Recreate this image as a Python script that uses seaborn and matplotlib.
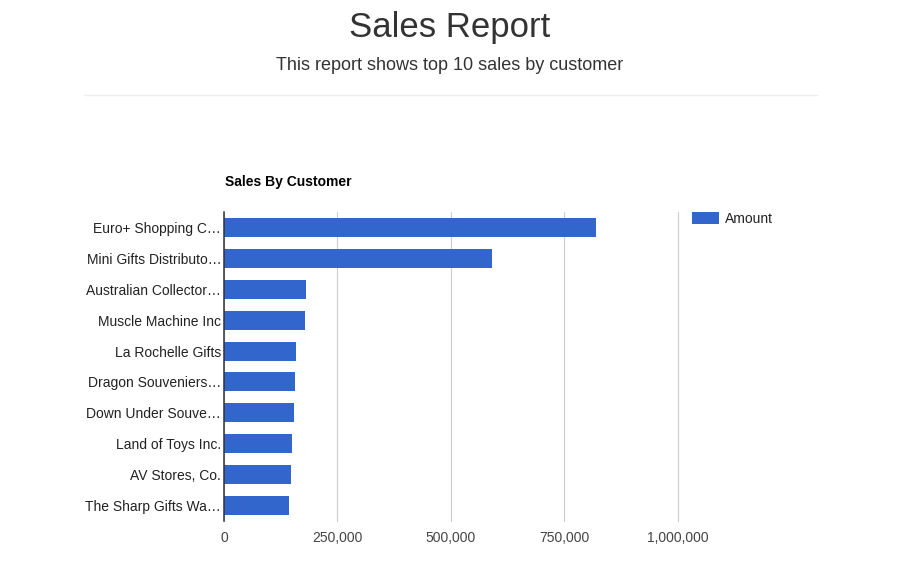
import matplotlib
matplotlib.use("Agg")
import matplotlib.pyplot as plt
import seaborn as sns
import pandas as pd
from matplotlib.patches import Patch
from matplotlib.ticker import FuncFormatter

customers = [
    "Euro+ Shopping C\u2026",
    "Mini Gifts Distributo\u2026",
    "Australian Collector\u2026",
    "Muscle Machine Inc",
    "La Rochelle Gifts",
    "Dragon Souveniers\u2026",
    "Down Under Souve\u2026",
    "Land of Toys Inc.",
    "AV Stores, Co.",
    "The Sharp Gifts Wa\u2026",
]
amounts = [820690, 591827, 180585, 177914, 158573, 156251, 154622, 149085, 148410, 143536]
x_ticks = [0, 250000, 500000, 750000, 1000000]

sns.set_theme(style="white")
plt.rcParams["font.family"] = ["Liberation Sans", "DejaVu Sans"]

df = pd.DataFrame({"Customer": customers, "Amount": amounts})

fig = plt.figure(figsize=(9, 5.8), dpi=100)
fig.patch.set_facecolor("white")
top_px, bot_px = 212, 521
ax = fig.add_axes([224 / 900, 1 - bot_px / 580, 453.5 / 900, (bot_px - top_px) / 580])

sns.barplot(data=df, y="Customer", x="Amount", color="#3366CC", saturation=1,
            width=0.615, ax=ax, orient="h", linewidth=0)

ax.set_xlim(0, 1000000)
ax.set_ylim(9.5, -0.5)
ax.set_xticks(x_ticks)
ax.xaxis.set_major_formatter(FuncFormatter(lambda v, p: f"{int(v):,}"))
ax.grid(axis="x", color="#cccccc", linewidth=0.8)
for gl in ax.get_xgridlines():
    gl.set_clip_on(False)
ax.set_axisbelow(True)
for s in ["top", "right", "bottom"]:
    ax.spines[s].set_visible(False)
ax.spines["left"].set_color("#333333")
ax.spines["left"].set_linewidth(1.1)
ax.spines["left"].set_zorder(5)
ax.set_xlabel("")
ax.set_ylabel("")
ax.tick_params(axis="both", length=0, labelsize=10, colors="#222222")
ax.tick_params(axis="x", pad=7, colors="#444444")
ax.tick_params(axis="y", pad=2)

fig.text(0.5, 1 - 28 / 580, "Sales Report", ha="center", va="center",
         fontsize=25, color="#333333")
fig.text(0.5, 1 - 66 / 580, "This report shows top 10 sales by customer",
         ha="center", va="center", fontsize=13, color="#333333")
fig.add_artist(plt.Line2D([84 / 900, 817 / 900], [1 - 95 / 580, 1 - 95 / 580],
                          color="#eeeeee", linewidth=1))
fig.text(225 / 900, 1 - 182 / 580, "Sales By Customer", ha="left", va="center",
         fontsize=10, fontweight="bold", color="#000000")

handles = [Patch(facecolor="#3366CC", edgecolor="none", label="Amount")]
fig.legend(handles=handles, loc="center left",
           bbox_to_anchor=(679 / 900, 1 - 219 / 580), frameon=False,
           fontsize=10, handlelength=2.0, handleheight=1.0, handletextpad=0.4,
           labelcolor="#222222")

fig.savefig("out.png", dpi=100, facecolor="white")
